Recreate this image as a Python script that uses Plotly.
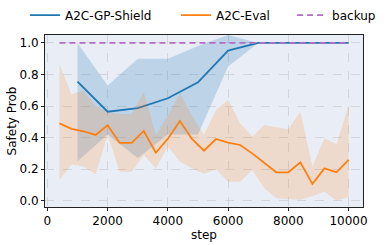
import plotly.graph_objects as go

# ---- data ----
shield_steps = [1000, 2000, 3000, 4000, 5000, 6000, 7000, 8000, 9000, 10000]
shield_mean = [0.755, 0.564, 0.586, 0.649, 0.75, 0.951, 1.0, 1.0, 1.0, 1.0]
shield_upper = [1.0, 0.73, 0.90, 0.90, 0.98, 1.05, 1.0, 1.0, 1.0, 1.0]
shield_lower = [0.25, 0.42, 0.27, 0.42, 0.42, 0.85, 1.0, 1.0, 1.0, 1.0]

eval_steps = [400, 800, 1200, 1600, 2000, 2400, 2800, 3200, 3600, 4000, 4400, 4800, 5200,
              5600, 6000, 6400, 6800, 7200, 7600, 8000, 8400, 8800, 9200, 9600, 10000]
eval_mean = [0.49, 0.455, 0.44, 0.417, 0.478, 0.366, 0.366, 0.442, 0.304, 0.393, 0.505, 0.391, 0.317,
             0.391, 0.368, 0.353, 0.30, 0.241, 0.18, 0.18, 0.243, 0.106, 0.205, 0.18, 0.258]
eval_upper = [0.865, 0.675, 0.696, 0.60, 0.56, 0.55, 0.55, 0.687, 0.417, 0.54, 0.68, 0.54, 0.42,
              0.575, 0.64, 0.49, 0.406, 0.48, 0.465, 0.455, 0.565, 0.216, 0.396, 0.358, 0.607]
eval_lower = [0.131, 0.23, 0.216, 0.167, 0.417, 0.184, 0.184, 0.29, 0.205, 0.343, 0.247, 0.205, 0.17,
              0.2, 0.12, 0.12, 0.195, 0.079, 0.015, 0.01, 0.005, 0.03, 0.057, 0.0, 0.025]

backup_steps = [400, 10000]
backup_value = [1.0, 1.0]

x_ticks = [0, 2000, 4000, 6000, 8000, 10000]
y_ticks = [0.0, 0.2, 0.4, 0.6, 0.8, 1.0]

BLUE = "#1f77b4"
ORANGE = "#ff7f0e"
PURPLE = "#b36cc4"

fig = go.Figure()

fig.add_trace(go.Scatter(x=shield_steps + shield_steps[::-1], y=shield_upper + shield_lower[::-1],
                         fill="toself", fillcolor="rgba(31,119,180,0.22)", line=dict(width=0),
                         mode="lines", showlegend=False, hoverinfo="skip"))
fig.add_trace(go.Scatter(x=shield_steps, y=shield_mean, mode="lines", name="A2C-GP-Shield",
                         line=dict(color=BLUE, width=1.8), legend="legend"))
fig.add_trace(go.Scatter(x=eval_steps + eval_steps[::-1], y=eval_upper + eval_lower[::-1],
                         fill="toself", fillcolor="rgba(255,127,14,0.18)", line=dict(width=0),
                         mode="lines", showlegend=False, hoverinfo="skip"))
fig.add_trace(go.Scatter(x=eval_steps, y=eval_mean, mode="lines", name="A2C-Eval",
                         line=dict(color=ORANGE, width=1.8), legend="legend2"))
fig.add_trace(go.Scatter(x=backup_steps, y=backup_value, mode="lines", name="backup",
                         line=dict(color=PURPLE, width=1.8, dash="6px,4px"), legend="legend3"))

axis_common = dict(showline=True, mirror=True, linecolor="#222222", linewidth=1,
                   ticks="outside", ticklen=3, tickcolor="#222222",
                   showgrid=True, gridcolor="#d2d6dc", griddash="dash", gridwidth=0.8,
                   zeroline=False, tickfont=dict(size=12, color="black"), automargin=False)

leg_common = dict(orientation="h", xanchor="left", y=1.116, yanchor="middle",
                  font=dict(size=12), bgcolor="rgba(0,0,0,0)", itemwidth=30)

fig.update_layout(
    width=389, height=245,
    margin=dict(l=45, r=26, t=35, b=38, autoexpand=False),
    paper_bgcolor="white", plot_bgcolor="#e9eef6",
    font=dict(family="DejaVu Sans", size=12, color="black"),
    legend=dict(x=-0.063, **leg_common),
    legend2=dict(x=0.412, **leg_common),
    legend3=dict(x=0.777, **leg_common),
    xaxis=dict(range=[-80, 10480], tickvals=x_ticks, tickformat="d",
               title=dict(text="step", standoff=2, font=dict(size=12)), **axis_common),
    yaxis=dict(range=[-0.04, 1.05], tickvals=y_ticks, tickformat=".1f",
               title=dict(text="Safety Prob", standoff=0, font=dict(size=12)), **axis_common),
)

fig.write_html("out.html", config={"displayModeBar": False},
               post_script="document.body.style.margin='0';")
